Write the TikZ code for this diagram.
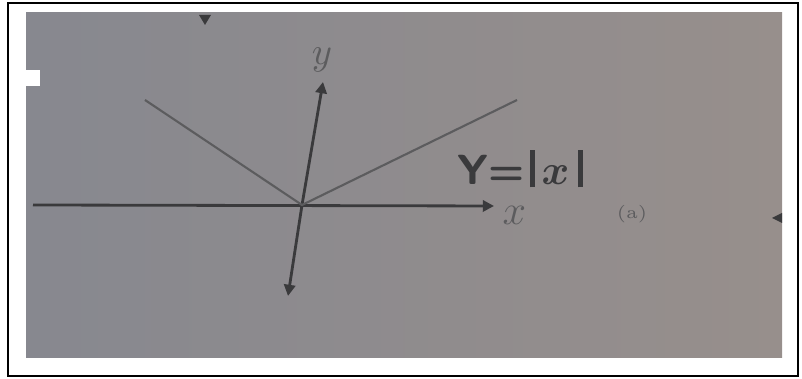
\documentclass[tikz,border=0pt]{standalone}
\usepackage{tikz}
\usepackage{bm}
\usetikzlibrary{arrows.meta}

\definecolor{photoL}{HTML}{87888F}
\definecolor{photoR}{HTML}{978F8C}
\definecolor{ink}{HTML}{3A3A3C}
\definecolor{inkfaint}{HTML}{5C5C5E}
\newcommand{\absbar}{\rule[-0.8pt]{1.3pt}{10.5pt}}

\begin{document}
\begin{tikzpicture}[x=0.1mm,y=-0.1mm,
axis/.style={draw=ink,line width=0.8pt,-{Triangle[width=3.2pt,length=3.2pt]}},
branch/.style={draw=inkfaint,line width=0.6pt},
lbl/.style={text=ink,inner sep=0pt}]
\useasboundingbox (0,0) rectangle (802,379);
% frame and photo
\draw[black,line width=0.5pt] (8,3) rectangle (798,376);
\shade[left color=photoL,right color=photoR] (26,13) rectangle (782,358);
\fill[white] (26,70) rectangle (40,86);
% stray tips at the photo edge
\fill[ink] (199,15) -- (211,15) -- (205,25) -- cycle;
\fill[ink] (772,218) -- (782,213) -- (782,223) -- cycle;
% axes
\coordinate (o) at (302,205);
\coordinate (xl) at (33,205);
\coordinate (xr) at (494,206);
\coordinate (yb) at (288,296);
\coordinate (yt) at (323,82);
\draw[axis] (xl) -- (xr);
\draw[axis] (o) -- (yt);
\draw[axis] (o) -- (yb);
% the two branches
\coordinate (bl) at (145,100);
\coordinate (br) at (517,100);
\draw[branch] (bl) -- (o) -- (br);
% labels
\node (xlab) [lbl,anchor=west,text=inkfaint] at (502,215) {\fontsize{12}{12}\selectfont$x$};
\node (ylab) [lbl,text=inkfaint] at (322,60) {\fontsize{11}{11}\selectfont$y$};
\node (eq) [lbl,anchor=south west] at (457,188) {\fontsize{12}{12}\selectfont\bfseries\sffamily Y=\kern1.5pt\absbar\kern2pt$\bm{x}$\kern2.5pt\absbar};
\node (tag) [lbl,text=inkfaint] at (632,214) {\fontsize{5}{5}\selectfont(a)};
\end{tikzpicture}
\end{document}
